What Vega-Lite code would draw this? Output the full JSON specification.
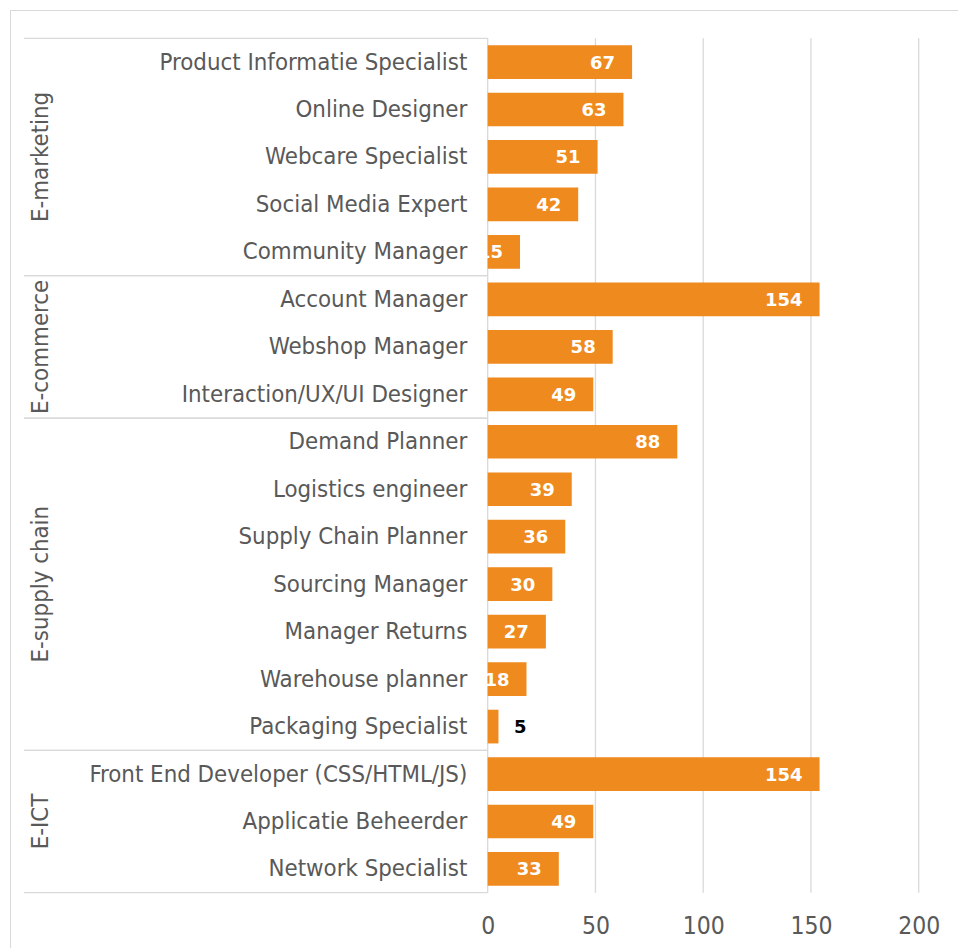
{
  "$schema": "https://vega.github.io/schema/vega-lite/v6.json",
  "width": 948,
  "height": 938,
  "autosize": {"type": "none"},
  "padding": {"left": 10, "top": 10, "right": 0, "bottom": 0},
  "background": "white",
  "config": {"view": {"stroke": "#d9d9d9", "strokeWidth": 1}, "font": "DejaVu Sans Condensed"},
  "datasets": {
    "jobs": [
      {"group": "E-marketing", "job": "Product Informatie Specialist", "value": 67},
      {"group": "E-marketing", "job": "Online Designer", "value": 63},
      {"group": "E-marketing", "job": "Webcare Specialist", "value": 51},
      {"group": "E-marketing", "job": "Social Media Expert", "value": 42},
      {"group": "E-marketing", "job": "Community Manager", "value": 15},
      {"group": "E-commerce", "job": "Account Manager", "value": 154},
      {"group": "E-commerce", "job": "Webshop Manager", "value": 58},
      {"group": "E-commerce", "job": "Interaction/UX/UI Designer", "value": 49},
      {"group": "E-supply chain", "job": "Demand Planner", "value": 88},
      {"group": "E-supply chain", "job": "Logistics engineer", "value": 39},
      {"group": "E-supply chain", "job": "Supply Chain Planner", "value": 36},
      {"group": "E-supply chain", "job": "Sourcing Manager", "value": 30},
      {"group": "E-supply chain", "job": "Manager Returns", "value": 27},
      {"group": "E-supply chain", "job": "Warehouse planner", "value": 18},
      {"group": "E-supply chain", "job": "Packaging Specialist", "value": 5},
      {"group": "E-ICT", "job": "Front End Developer (CSS/HTML/JS)", "value": 154},
      {"group": "E-ICT", "job": "Applicatie Beheerder", "value": 49},
      {"group": "E-ICT", "job": "Network Specialist", "value": 33}
    ],
    "groups": [
      {"group": "E-marketing", "first": "Product Informatie Specialist", "mid": "Webcare Specialist", "last": "Community Manager"},
      {"group": "E-commerce", "first": "Account Manager", "mid": "Webshop Manager", "last": "Interaction/UX/UI Designer"},
      {"group": "E-supply chain", "first": "Demand Planner", "mid": "Sourcing Manager", "last": "Packaging Specialist"},
      {"group": "E-ICT", "first": "Front End Developer (CSS/HTML/JS)", "mid": "Applicatie Beheerder", "last": "Network Specialist"}
    ],
    "ticks": [{"v": 0}, {"v": 50}, {"v": 100}, {"v": 150}, {"v": 200}]
  },
  "layer": [
    {
      "data": {"name": "ticks"},
      "mark": {"type": "rule", "color": "#d9d9d9", "strokeWidth": 1.3},
      "encoding": {
        "x": {
          "field": "v", "type": "quantitative",
          "scale": {"domain": [-221.67, 218.24], "nice": false, "zero": false},
          "axis": {
            "values": [0, 50, 100, 150, 200], "grid": false, "domain": false, "ticks": false, "tickSize": 0,
            "labelPadding": 0, "offset": -15, "labelBaseline": "alphabetic", "labelFontSize": 24.5,
            "labelColor": "#595959", "labelFont": "DejaVu Sans Condensed", "title": null
          }
        },
        "y": {
          "datum": "Product Informatie Specialist", "type": "nominal", "bandPosition": 0,
          "scale": {
            "domain": ["Product Informatie Specialist", "Online Designer", "Webcare Specialist", "Social Media Expert", "Community Manager", "Account Manager", "Webshop Manager", "Interaction/UX/UI Designer", "Demand Planner", "Logistics engineer", "Supply Chain Planner", "Sourcing Manager", "Manager Returns", "Warehouse planner", "Packaging Specialist", "Front End Developer (CSS/HTML/JS)", "Applicatie Beheerder", "Network Specialist"],
            "paddingInner": 0, "paddingOuter": 0.8806, "align": 0.3385
          },
          "axis": null
        },
        "y2": {"datum": "Network Specialist", "bandPosition": 1}
      }
    },
    {
      "data": {"name": "jobs"},
      "mark": {"type": "bar", "color": "#EF8A1E", "height": {"band": 0.71}},
      "encoding": {
        "x": {"field": "value", "type": "quantitative"},
        "x2": {"datum": 0},
        "y": {"field": "job", "type": "nominal"}
      }
    },
    {
      "data": {"name": "jobs"},
      "transform": [{"filter": "datum.value >= 10"}],
      "mark": {"type": "text", "align": "right", "baseline": "middle", "dx": -17, "dy": 1.5, "font": "DejaVu Sans", "fontSize": 18, "fontWeight": "bold", "color": "white"},
      "encoding": {
        "x": {"field": "value", "type": "quantitative"},
        "y": {"field": "job", "type": "nominal"},
        "text": {"field": "value", "type": "quantitative"}
      }
    },
    {
      "data": {"name": "jobs"},
      "transform": [{"filter": "datum.value < 10"}],
      "mark": {"type": "text", "align": "left", "baseline": "middle", "dx": 15.5, "dy": 1.5, "font": "DejaVu Sans", "fontSize": 18, "fontWeight": "bold", "color": "black"},
      "encoding": {
        "x": {"field": "value", "type": "quantitative"},
        "y": {"field": "job", "type": "nominal"},
        "text": {"field": "value", "type": "quantitative"}
      }
    },
    {
      "data": {"name": "jobs"},
      "mark": {"type": "text", "align": "right", "baseline": "middle", "dx": -20.4, "dy": 0.5, "fontSize": 23.8, "color": "#595959"},
      "encoding": {
        "x": {"datum": 0, "type": "quantitative"},
        "y": {"field": "job", "type": "nominal"},
        "text": {"field": "job", "type": "nominal"}
      }
    },
    {
      "data": {"name": "groups"},
      "mark": {"type": "text", "align": "center", "baseline": "alphabetic", "angle": 270, "fontSize": 23.8, "color": "#595959"},
      "encoding": {
        "x": {"datum": -204.2, "type": "quantitative"},
        "y": {"field": "mid", "type": "nominal"},
        "text": {"field": "group", "type": "nominal"}
      }
    },
    {
      "data": {"name": "groups"},
      "mark": {"type": "rule", "color": "#d9d9d9", "strokeWidth": 1.3},
      "encoding": {
        "x": {"datum": -215.2, "type": "quantitative"},
        "x2": {"datum": 0},
        "y": {"field": "first", "type": "nominal", "bandPosition": 0}
      }
    },
    {
      "data": {"name": "groups"},
      "mark": {"type": "rule", "color": "#d9d9d9", "strokeWidth": 1.3},
      "encoding": {
        "x": {"datum": -215.2, "type": "quantitative"},
        "x2": {"datum": 0},
        "y": {"field": "last", "type": "nominal", "bandPosition": 1}
      }
    }
  ]
}
